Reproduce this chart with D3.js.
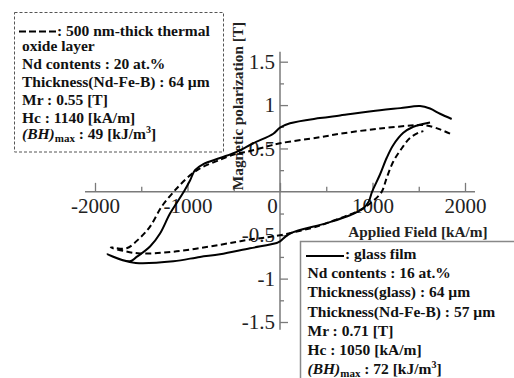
<!DOCTYPE html>
<html>
<head>
<meta charset="utf-8">
<script src="https://cdn.jsdelivr.net/npm/d3@7"></script>
<style>
  html, body { margin: 0; padding: 0; background: #fff; }
  svg { display: block; }
  text { font-family: "Liberation Serif", "Times New Roman", serif; }
</style>
</head>
<body>
<svg id="chart" width="514" height="378"></svg>
<script>
// ---- data (H in kA/m, J in T) ----
const glassH = [1856, 1730, 1622, 1514, 1300, 1081, 649, 432, 108, 0, -72, -288, -468, -649, -829, -919, -973, -1040, -1189, -1297, -1405, -1550, -1622, -1866,
                -1700, -1560, -1153, -865, -649, -324, -36, 0, 108, 505, 757, 901, 960, 995, 1081, 1153, 1225, 1333, 1441, 1532, 1622];
const glassJ = [0.84, 0.90, 0.96, 0.99, 0.965, 0.94, 0.88, 0.85, 0.79, 0.74, 0.67, 0.56, 0.46, 0.39, 0.32, 0.25, 0.13, 0.0, -0.25, -0.48, -0.63, -0.75, -0.80, -0.72,
                -0.79, -0.82, -0.80, -0.75, -0.72, -0.65, -0.59, -0.57, -0.48, -0.36, -0.27, -0.19, -0.11, 0.0, 0.20, 0.39, 0.54, 0.68, 0.75, 0.78, 0.80];
const oxideH = [1838, 1730, 1586, 1514, 1081, 649, 432, 0, -150, -324, -468, -649, -865, -973, -1081, -1150, -1279, -1405, -1514, -1658, -1830,
                -1694, -1514, -1153, -649, -324, 0, 397, 505, 865, 990, 1099, 1153, 1225, 1315, 1405, 1495, 1550];
const oxideJ = [0.67, 0.72, 0.765, 0.77, 0.73, 0.67, 0.63, 0.56, 0.52, 0.47, 0.44, 0.37, 0.27, 0.19, 0.08, 0.0, -0.17, -0.40, -0.53, -0.65, -0.64,
                -0.68, -0.71, -0.69, -0.61, -0.55, -0.50, -0.40, -0.36, -0.21, -0.12, 0.0, 0.16, 0.35, 0.50, 0.62, 0.68, 0.70];

const xMajor = [-2000, -1000, 0, 1000, 2000];
const xMinor = [-1500, -500, 500, 1500];
const yMajor = [-1.5, -1, -0.5, 0.5, 1, 1.5];
const yMinor = [-1.25, -0.75, -0.25, 0.25, 0.75, 1.25];
const xExtent = [-2108, 2108];
const yExtent = [-1.59, 1.615];

const legend1 = ["500 nm-thick thermal", "oxide layer", "Nd contents : 20 at.%", "Thickness(Nd-Fe-B) : 64 \u00b5m", "Mr : 0.55 [T]", "Hc : 1140 [kA/m]"];
const legend1BH = "49";
const legend2 = ["glass film", "Nd contents : 16 at.%", "Thickness(glass) : 64 \u00b5m", "Thickness(Nd-Fe-B) : 57 \u00b5m", "Mr : 0.71 [T]", "Hc : 1050 [kA/m]"];
const legend2BH = "72";

// ---- drawing ----
const svg = d3.select("#chart");
svg.append("rect").attr("width", 514).attr("height", 378).attr("fill", "#fff");

const x = d3.scaleLinear().domain([-2000, 2000]).range([95, 465]);
const y = d3.scaleLinear().domain([-1.5, 1.5]).range([322, 61.7]);
const axisColor = "#7a7a7a";
const fontF = '"Liberation Serif", "Times New Roman", serif';

// axes lines
svg.append("line").attr("x1", x(xExtent[0])).attr("x2", x(xExtent[1])).attr("y1", y(0)).attr("y2", y(0))
  .attr("stroke", axisColor).attr("stroke-width", 1.5);
svg.append("line").attr("x1", x(0)).attr("x2", x(0)).attr("y1", y(yExtent[1])).attr("y2", y(yExtent[0]))
  .attr("stroke", axisColor).attr("stroke-width", 1.5);

// x axis
const gx = svg.append("g").attr("transform", `translate(0,${y(0)})`)
  .call(d3.axisBottom(x).tickValues(xMajor).tickSize(-9).tickPadding(6).tickFormat(d => String(d)));
gx.select(".domain").remove();
gx.selectAll(".tick line").attr("stroke", axisColor).attr("stroke-width", 1.3);
gx.selectAll(".tick text").attr("font-family", fontF).attr("font-size", 21).attr("fill", "#222")
  .attr("dx", d => d === 0 ? -8 : 0);
const gx2 = svg.append("g").attr("transform", `translate(0,${y(0)})`)
  .call(d3.axisBottom(x).tickValues(xMinor).tickSize(-5).tickFormat(""));
gx2.select(".domain").remove();
gx2.selectAll(".tick line").attr("stroke", axisColor).attr("stroke-width", 1.3);

// y axis
const gy = svg.append("g").attr("transform", `translate(${x(0)},0)`)
  .call(d3.axisLeft(y).tickValues(yMajor).tickSize(-8).tickPadding(5).tickFormat(d => String(d)));
gy.select(".domain").remove();
gy.selectAll(".tick line").attr("stroke", axisColor).attr("stroke-width", 1.3);
gy.selectAll(".tick text").attr("font-family", fontF).attr("font-size", 21).attr("fill", "#222");
const gy2 = svg.append("g").attr("transform", `translate(${x(0)},0)`)
  .call(d3.axisLeft(y).tickValues(yMinor).tickSize(-4).tickFormat(""));
gy2.select(".domain").remove();
gy2.selectAll(".tick line").attr("stroke", axisColor).attr("stroke-width", 1.3);

// axis titles
svg.append("text").attr("transform", "translate(243,106) rotate(-90)").attr("text-anchor", "middle")
  .attr("font-size", 15.3).attr("font-weight", "bold").attr("fill", "#222").text("Magnetic polarization [T]");
svg.append("text").attr("x", 418).attr("y", 237).attr("text-anchor", "middle")
  .attr("font-size", 15.3).attr("font-weight", "bold").attr("fill", "#222").text("Applied Field [kA/m]");

// curves
const line = d3.line().x(d => x(d[0])).y(d => y(d[1])).curve(d3.curveCatmullRom.alpha(0.5));
const glass = glassH.map((h, i) => [h, glassJ[i]]);
const oxide = oxideH.map((h, i) => [h, oxideJ[i]]);
svg.append("path").attr("d", line(glass)).attr("fill", "none").attr("stroke", "#000").attr("stroke-width", 2);
svg.append("path").attr("d", line(oxide)).attr("fill", "none").attr("stroke", "#000").attr("stroke-width", 2)
  .attr("stroke-dasharray", "6,3.5");

// legend 1 (dashed box)
svg.append("rect").attr("x", 14.5).attr("y", 12.5).attr("width", 209).attr("height", 139.5)
  .attr("fill", "#fff").attr("stroke", "#555").attr("stroke-width", 1).attr("stroke-dasharray", "3,2");
svg.append("line").attr("x1", 19).attr("x2", 56).attr("y1", 31.5).attr("y2", 31.5)
  .attr("stroke", "#000").attr("stroke-width", 2.2).attr("stroke-dasharray", "7,3");
const l1y = [36, 50.7, 69, 87.3, 105, 122.7];
const l1x = [57, 22, 22, 22, 22, 22];
legend1.forEach((t, i) => {
  svg.append("text").attr("x", l1x[i]).attr("y", l1y[i]).attr("font-size", 15.5).attr("font-weight", "bold")
    .attr("fill", "#111").text(i === 0 ? ": " + t : t);
});
function bhLine(xp, yp, val) {
  const t = svg.append("text").attr("x", xp).attr("y", yp).attr("font-size", 15.5).attr("font-weight", "bold").attr("fill", "#111");
  t.append("tspan").attr("font-style", "italic").text("(BH)");
  t.append("tspan").attr("font-size", 11).attr("dy", 3).text("max");
  t.append("tspan").attr("dy", -3).text(" : " + val + " [kJ/m");
  t.append("tspan").attr("font-size", 10).attr("dy", -6).text("3");
  t.append("tspan").attr("dy", 6).text("]");
}
bhLine(22, 139.3, legend1BH);

// legend 2 (solid box)
svg.append("rect").attr("x", 300.5).attr("y", 241.5).attr("width", 240).attr("height", 200)
  .attr("fill", "#fff").attr("stroke", "#888").attr("stroke-width", 1.5);
svg.append("line").attr("x1", 306).attr("x2", 344).attr("y1", 256).attr("y2", 256)
  .attr("stroke", "#000").attr("stroke-width", 2.2);
const l2y = [259.3, 278.3, 297.3, 316.7, 336.2, 355.2];
const l2x = [345, 307.5, 307.5, 307.5, 307.5, 307.5];
legend2.forEach((t, i) => {
  svg.append("text").attr("x", l2x[i]).attr("y", l2y[i]).attr("font-size", 15.5).attr("font-weight", "bold")
    .attr("fill", "#111").text(i === 0 ? ": " + t : t);
});
bhLine(307.5, 374, legend2BH);
</script>
</body>
</html>
